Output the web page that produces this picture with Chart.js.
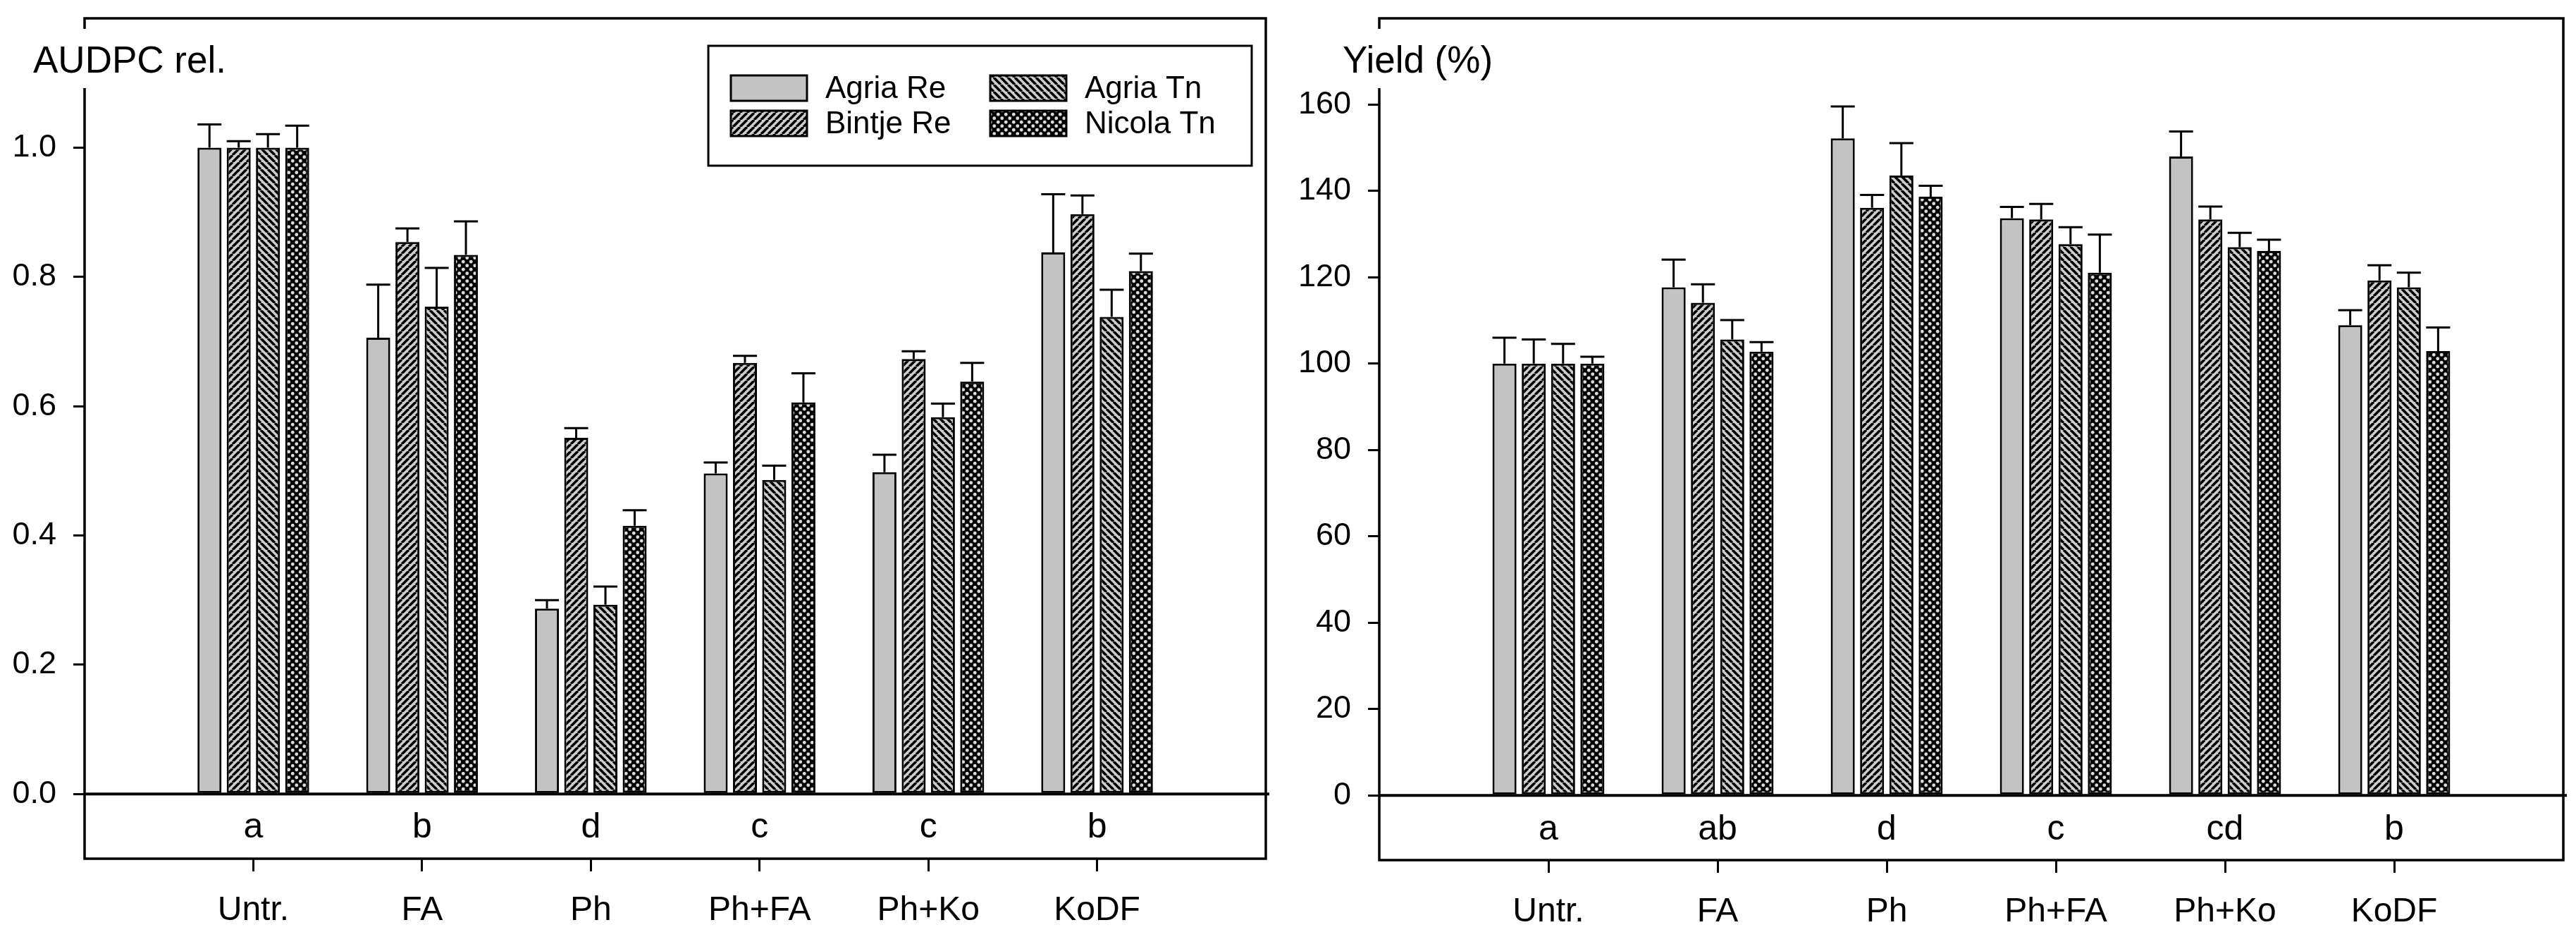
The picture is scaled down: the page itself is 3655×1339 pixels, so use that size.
<!DOCTYPE html>
<html>
<head>
<meta charset="utf-8">
<script src="https://cdn.jsdelivr.net/npm/chart.js@4.4.1/dist/chart.umd.min.js"></script>
<style>
  html, body { margin: 0; padding: 0; background: #fff; }
  #wrap { position: relative; width: 3655px; height: 1339px; }
  canvas { position: absolute; top: 0; }
  #left { left: 0; }
  #right { left: 1828px; }
</style>
</head>
<body>
<div id="wrap">
  <canvas id="left" width="1828" height="1339"></canvas>
  <canvas id="right" width="1827" height="1339"></canvas>
</div>
<script>
// categories and series
const categories = ['Untr.', 'FA', 'Ph', 'Ph+FA', 'Ph+Ko', 'KoDF'];
const seriesNames = ['Agria Re', 'Bintje Re', 'Agria Tn', 'Nicola Tn'];

// AUDPC relative (left panel)
const audpcAgriaRe  = [1.0, 0.706, 0.287, 0.496, 0.498, 0.838];
const audpcBintjeRe = [1.0, 0.854, 0.551, 0.667, 0.673, 0.897];
const audpcAgriaTn  = [1.0, 0.754, 0.293, 0.486, 0.583, 0.738];
const audpcNicolaTn = [1.0, 0.834, 0.415, 0.606, 0.638, 0.809];
const audpcErrAgriaRe  = [0.036, 0.082, 0.013, 0.017, 0.027, 0.090];
const audpcErrBintjeRe = [0.010, 0.021, 0.015, 0.011, 0.012, 0.029];
const audpcErrAgriaTn  = [0.021, 0.060, 0.028, 0.022, 0.021, 0.042];
const audpcErrNicolaTn = [0.034, 0.052, 0.024, 0.045, 0.029, 0.027];
const audpcLetters = ['a', 'b', 'd', 'c', 'c', 'b'];
const audpcTicks = [0, 0.2, 0.4, 0.6, 0.8, 1.0];

// Yield % (right panel)
const yieldAgriaRe  = [100, 117.7, 152.2, 133.7, 148.0, 108.9];
const yieldBintjeRe = [100, 114.1, 136.1, 133.4, 133.4, 119.3];
const yieldAgriaTn  = [100, 105.6, 143.6, 127.7, 127.0, 117.7];
const yieldNicolaTn = [100, 102.8, 138.7, 121.1, 126.1, 102.9];
const yieldErrAgriaRe  = [6.0, 6.4, 7.4, 2.6, 5.8, 3.5];
const yieldErrBintjeRe = [5.6, 4.3, 3.0, 3.6, 3.0, 3.5];
const yieldErrAgriaTn  = [4.6, 4.5, 7.5, 3.9, 3.3, 3.4];
const yieldErrNicolaTn = [1.6, 2.2, 2.5, 8.8, 2.6, 5.5];
const yieldLetters = ['a', 'ab', 'd', 'c', 'cd', 'b'];
const yieldTicks = [0, 20, 40, 60, 80, 100, 120, 140, 160];

const FONT = "'Liberation Sans', Arial, sans-serif";
Chart.defaults.font.family = FONT;
Chart.defaults.color = '#000';

// fill patterns for the bars
function makePattern(kind) {
    const s = kind === 'dots' ? 11 : 10;
    const c = document.createElement('canvas');
    c.width = s; c.height = s;
    const g = c.getContext('2d');
    if (kind === 'grey') {
        g.fillStyle = '#c3c3c3';
        g.fillRect(0, 0, s, s);
    } else if (kind === 'dots') {
        g.fillStyle = '#000';
        g.fillRect(0, 0, s, s);
        g.fillStyle = '#dcdcdc';
        for (const [cx, cy] of [[s / 4, s / 4], [3 * s / 4, 3 * s / 4]]) {
            g.beginPath();
            g.arc(cx, cy, 2.4, 0, Math.PI * 2);
            g.fill();
        }
    } else {
        g.fillStyle = '#cdcdcd';
        g.fillRect(0, 0, s, s);
        g.strokeStyle = '#000';
        g.lineWidth = 3.6;
        g.beginPath();
        for (const k of [-s, 0, s]) {
            if (kind === 'fwd') {
                g.moveTo(k, s); g.lineTo(k + s, 0);
            } else {
                g.moveTo(k, 0); g.lineTo(k + s, s);
            }
        }
        g.stroke();
    }
    return g.createPattern(c, 'repeat');
}
const fills = [makePattern('grey'), makePattern('fwd'), makePattern('back'), makePattern('dots')];

function barDatasets(seriesVals, seriesErrs) {
    return seriesVals.map((vals, s) => ({
        label: seriesNames[s],
        data: vals.map((v, i) => ({ x: i, y: v })),
        errors: seriesErrs[s],
        backgroundColor: fills[s],
        borderColor: '#000',
        borderWidth: 3,
        borderSkipped: false,
        categoryPercentage: 0.693,
        barPercentage: 0.82
    }));
}

// error bars, frame, zero line, letters
const decorPlugin = {
    id: 'decor',
    afterDatasetsDraw(chart, args, opts) {
        const ctx = chart.ctx;
        const ya = chart.scales.y, xa = chart.scales.x;
        const area = chart.chartArea;
        ctx.save();
        ctx.strokeStyle = '#000';
        ctx.lineWidth = 3;
        chart.data.datasets.forEach((ds, d) => {
            const meta = chart.getDatasetMeta(d);
            meta.data.forEach((bar, i) => {
                const v = ds.data[i].y;
                const top = ya.getPixelForValue(v + ds.errors[i]);
                const w = bar.width;
                ctx.beginPath();
                ctx.moveTo(bar.x, bar.y);
                ctx.lineTo(bar.x, top);
                ctx.moveTo(bar.x - w / 2, top);
                ctx.lineTo(bar.x + w / 2, top);
                ctx.stroke();
            });
        });
        // zero line
        const y0 = ya.getPixelForValue(0);
        ctx.lineWidth = 4;
        ctx.beginPath();
        ctx.moveTo(area.left, y0);
        ctx.lineTo(area.right + 5, y0);
        ctx.stroke();
        // frame
        ctx.lineWidth = 3.5;
        ctx.strokeRect(area.left, area.top, area.right - area.left, area.bottom - area.top);
        // significance letters
        ctx.fillStyle = '#000';
        ctx.font = '50px ' + FONT;
        ctx.textAlign = 'center';
        ctx.textBaseline = 'middle';
        opts.letters.forEach((t, i) => {
            ctx.fillText(t, xa.getPixelForValue(i), ya.getPixelForValue(opts.letterY));
        });
        ctx.restore();
    },
    afterDraw(chart, args, opts) {
        const ctx = chart.ctx;
        ctx.save();
        // axis title sitting in a gap of the left axis line
        ctx.font = '53px ' + FONT;
        const tw = ctx.measureText(opts.title).width;
        ctx.fillStyle = '#fff';
        ctx.fillRect(opts.titleX - 12, 41, tw + 24, 84);
        ctx.fillStyle = '#000';
        ctx.textAlign = 'left';
        ctx.textBaseline = 'alphabetic';
        ctx.fillText(opts.title, opts.titleX, 103);
        // legend
        if (opts.legend) {
            const L = opts.legend;
            ctx.strokeStyle = '#000';
            ctx.lineWidth = 3;
            ctx.strokeRect(L.x, L.y, L.w, L.h);
            ctx.font = '44px ' + FONT;
            ctx.textBaseline = 'middle';
            chart.data.datasets.forEach((ds, d) => {
                const col = Math.floor(d / 2), row = d % 2;
                const sx = L.x + 32 + col * 368;
                const sy = L.y + 42 + row * 50;
                ctx.fillStyle = ds.backgroundColor;
                ctx.fillRect(sx, sy, 108, 36);
                ctx.lineWidth = 3;
                ctx.strokeRect(sx, sy, 108, 36);
                ctx.fillStyle = '#000';
                ctx.fillText(ds.label, sx + 134, sy + 20);
            });
        }
        ctx.restore();
    }
};

function makeChart(id, datasets, cfg) {
    return new Chart(document.getElementById(id), {
        type: 'bar',
        data: { datasets: datasets },
        plugins: [decorPlugin],
        options: {
            responsive: false,
            animation: false,
            devicePixelRatio: 1,
            layout: { padding: { left: 0, top: 26, right: cfg.padRight, bottom: 0 } },
            plugins: {
                legend: { display: false },
                tooltip: { enabled: false },
                decor: cfg.decor
            },
            scales: {
                x: {
                    type: 'linear',
                    min: -1,
                    max: 6,
                    offset: false,
                    afterBuildTicks: (axis) => { axis.ticks = categories.map((c, i) => ({ value: i })); },
                    afterFit: (axis) => {
                        axis.height = cfg.xHeight;
                        axis.paddingLeft = 0; axis.paddingRight = 0;
                        axis.paddingTop = 0; axis.paddingBottom = 0;
                    },
                    border: { display: false },
                    grid: { drawOnChartArea: false, drawTicks: true, tickLength: 18, lineWidth: 3, color: '#000', offset: false },
                    ticks: {
                        autoSkip: false,
                        maxRotation: 0,
                        padding: 27,
                        font: { size: 48 },
                        callback: (v) => categories[v]
                    }
                },
                y: {
                    min: cfg.yMin,
                    max: cfg.yMax,
                    afterBuildTicks: (axis) => { axis.ticks = cfg.ticks.map(v => ({ value: v })); },
                    afterFit: (axis) => {
                        axis.width = cfg.yWidth;
                        axis.paddingLeft = 0; axis.paddingRight = 0;
                        axis.paddingTop = 0; axis.paddingBottom = 0;
                    },
                    border: { display: false },
                    grid: { drawOnChartArea: false, drawTicks: true, tickLength: 16, lineWidth: 3, color: '#000' },
                    ticks: {
                        padding: 24,
                        font: { size: 45 },
                        callback: cfg.fmt
                    }
                }
            }
        }
    });
}

makeChart('left',
    barDatasets([audpcAgriaRe, audpcBintjeRe, audpcAgriaTn, audpcNicolaTn],
                [audpcErrAgriaRe, audpcErrBintjeRe, audpcErrAgriaTn, audpcErrNicolaTn]),
    {
        padRight: 32, xHeight: 121, yWidth: 120, yMin: -0.1, yMax: 1.2,
        ticks: audpcTicks, fmt: (v) => v.toFixed(1),
        decor: {
            letters: audpcLetters, letterY: -0.052,
            title: 'AUDPC rel.', titleX: 47,
            legend: { x: 1005, y: 65, w: 771, h: 170 }
        }
    });

makeChart('right',
    barDatasets([yieldAgriaRe, yieldBintjeRe, yieldAgriaTn, yieldNicolaTn],
                [yieldErrAgriaRe, yieldErrBintjeRe, yieldErrAgriaTn, yieldErrNicolaTn]),
    {
        padRight: 18, xHeight: 119, yWidth: 129, yMin: -15, yMax: 180,
        ticks: yieldTicks, fmt: (v) => String(v),
        decor: {
            letters: yieldLetters, letterY: -8,
            title: 'Yield (%)', titleX: 77
        }
    });
</script>
</body>
</html>
